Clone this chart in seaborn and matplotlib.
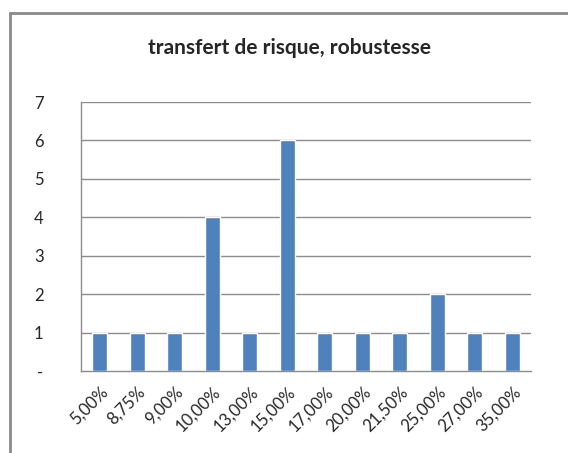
import numpy as np
import pandas as pd
import matplotlib
matplotlib.use("Agg")
import matplotlib.pyplot as plt
import seaborn as sns
from matplotlib.lines import Line2D

taux = ["5,00%", "8,75%", "9,00%", "10,00%", "13,00%", "15,00%",
        "17,00%", "20,00%", "21,50%", "25,00%", "27,00%", "35,00%"]
effectifs = [1, 1, 1, 4, 1, 6, 1, 1, 1, 2, 1, 1]
y_labels = ["-", "1", "2", "3", "4", "5", "6", "7"]

sns.set_style("white")
plt.rcParams['font.family'] = ['Lato', 'DejaVu Sans']

df = pd.DataFrame({"taux": taux, "n": effectifs})

fig = plt.figure(figsize=(5.68, 4.53), dpi=100)
ax = fig.add_axes([0.1426, 0.181, 0.7923, 0.5938])

sns.barplot(data=df, x="taux", y="n", ax=ax, color="#4F81BD",
            saturation=1, width=0.4, order=taux)

ax.set_ylim(0, 7)
ax.set_xlim(-0.5, len(taux) - 0.5)
ax.set_yticks(range(8))
ax.set_yticklabels(y_labels, fontsize=12)
ax.set_xlabel("")
ax.set_ylabel("")

# gridlines
for v in range(1, 8):
    ax.axhline(v, color="#8c8c8c", lw=1, zorder=0)
ax.tick_params(axis="y", length=6, width=1, color="#8c8c8c", pad=21, direction="out")

# x labels at category centers, tick marks at boundaries
ax.set_xticks(range(len(taux)))
ax.set_xticklabels(taux, rotation=45, ha="right", rotation_mode="anchor", fontsize=12)
ax.tick_params(axis="x", which="major", length=0, pad=9)
ax.set_xticks(np.arange(-0.5, len(taux)), minor=True)
ax.tick_params(axis="x", which="minor", length=6, width=1, color="#8c8c8c", direction="out")

for s in ["top", "right"]:
    ax.spines[s].set_visible(False)
for s in ["left", "bottom"]:
    ax.spines[s].set_color("#8c8c8c")
    ax.spines[s].set_linewidth(1)

fig.text(0.51, 0.895, "transfert de risque, robustesse", ha="center", va="center",
         fontsize=15, fontweight="bold")

# outer chart border (top and left only visible)
bx = 10 / 568
by = 1 - 13 / 453
fig.add_artist(Line2D([bx, 1.0], [by, by], transform=fig.transFigure, color="#8a8a8a", lw=2))
fig.add_artist(Line2D([bx, bx], [0.0, by], transform=fig.transFigure, color="#8a8a8a", lw=2))

fig.savefig("out.png", dpi=100)
